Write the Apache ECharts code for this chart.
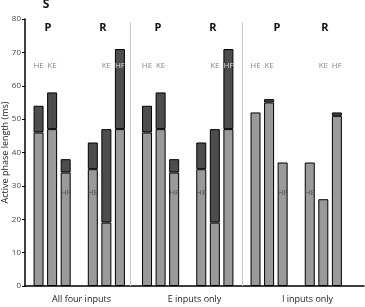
<!DOCTYPE html>
<html>
<head>
<meta charset="utf-8">
<script src="https://cdn.jsdelivr.net/npm/echarts@6/dist/echarts.min.js"></script>
<style>
  html, body { margin: 0; padding: 0; background: #fff; }
  #chart { width: 365px; height: 307px; }
</style>
</head>
<body>
<div id="chart"></div>
<script>
var panels = ['All four inputs', 'E inputs only', 'I inputs only'];
var muscles = ['HE', 'KE', 'HF', 'HE', 'KE', 'HF'];   // P group then R group
var labelLevel = [66, 66, 28, 28, 66, 66];
var yTicks = [0, 10, 20, 30, 40, 50, 60, 70, 80];

// light (lower) and dark (upper) parts of each bar, ms
var allFourLower = [46, 47, 34, 35, 19, 47];
var allFourUpper = [8, 11, 4, 8, 28, 24];
var eOnlyLower = [46, 47, 34, 35, 19, 47];
var eOnlyUpper = [8, 11, 4, 8, 28, 24];
var iOnlyLower = [52, 55, 37, 37, 26, 51];
var iOnlyUpper = [0, 1, 0, 0, 0, 1];

var separatorAt = [7.77, 16.05];

var categories = [], lower = [], upper = [], labels = [];
[[allFourLower, allFourUpper], [eOnlyLower, eOnlyUpper], [iOnlyLower, iOnlyUpper]].forEach(function (p) {
    for (var i = 0; i < 6; i++) {
        if (i == 0 || i == 3) {
            categories.push(''); lower.push('-'); upper.push('-');
        }
        var idx = categories.length;
        categories.push(muscles[i]);
        lower.push(p[0][i]);
        upper.push(p[1][i] ? p[1][i] : '-');
        var lv = labelLevel[i];
        var inDark = lv > p[0][i] && lv < p[0][i] + p[1][i];
        labels.push({
            value: [idx, lv],
            label: { color: inDark ? '#fff' : (lv < p[0][i] ? '#444' : '#6a6a6a') },
            name: muscles[i]
        });
    }
});
categories.push('', '');
lower.push('-', '-');
upper.push('-', '-');

var heading = function (t, x, y, size) {
    return { type: 'text', x: x, y: y, style: { text: t, font: 'bold ' + size + 'px "Open Sans"', fill: '#111', align: 'center', verticalAlign: 'middle' } };
};

var myChart = echarts.init(document.getElementById('chart'));
myChart.setOption({
    animation: false,
    textStyle: { fontFamily: 'Open Sans' },
    grid: { left: 25, right: 1, top: 19, bottom: 21, outerBoundsMode: 'none', containLabel: false },
    xAxis: [
        {
            type: 'category',
            data: categories,
            boundaryGap: false,
            axisLine: { lineStyle: { color: '#000', width: 1.5 } },
            axisTick: { show: false },
            axisLabel: { show: false }
        },
        {
            type: 'category',
            data: panels,
            position: 'bottom',
            axisLine: { show: false },
            axisTick: { show: false },
            axisLabel: { margin: 9, fontSize: 9, color: '#222', fontFamily: 'Open Sans' }
        },
        { type: 'value', min: 0, max: 25, show: false }
    ],
    yAxis: {
        type: 'value',
        min: yTicks[0],
        max: yTicks[yTicks.length - 1],
        interval: 10,
        name: 'Active phase length (ms)',
        nameLocation: 'middle',
        nameGap: 15,
        nameMoveOverlap: false,
        nameTextStyle: { fontSize: 9, color: '#222', fontFamily: 'Open Sans' },
        axisLine: { show: true, lineStyle: { color: '#000', width: 1.5 } },
        axisTick: { show: true, length: 3, lineStyle: { color: '#000' } },
        axisLabel: { fontSize: 8, color: '#444', margin: 4 },
        splitLine: { show: false }
    },
    series: [
        {
            type: 'bar',
            stack: 'len',
            barWidth: 10,
            data: lower,
            itemStyle: { color: '#9a9a9a', borderColor: '#000', borderWidth: 1 }
        },
        {
            type: 'bar',
            stack: 'len',
            barWidth: 10,
            data: upper,
            itemStyle: { color: '#4d4d4d', borderColor: '#000', borderWidth: 1 }
        },
        {
            type: 'scatter',
            symbolSize: 0,
            data: labels,
            z: 5,
            label: {
                show: true,
                position: 'inside',
                formatter: '{b}',
                fontSize: 8,
                fontFamily: 'Open Sans'
            }
        },
        {
            type: 'line',
            xAxisIndex: 2,
            data: [],
            markLine: {
                silent: true,
                symbol: 'none',
                label: { show: false },
                lineStyle: { color: '#c8c8c8', type: 'solid', width: 1 },
                data: separatorAt.map(function (x) {
                    return [{ coord: [x, 0] }, { coord: [x, 79] }];
                })
            }
        }
    ],
    graphic: [
        heading('S', 46, 5, 12),
        heading('P', 48, 28, 11),
        heading('R', 103, 28, 11),
        heading('P', 158, 28, 11),
        heading('R', 213, 28, 11),
        heading('P', 277, 28, 11),
        heading('R', 325, 28, 11)
    ]
});
</script>
</body>
</html>
